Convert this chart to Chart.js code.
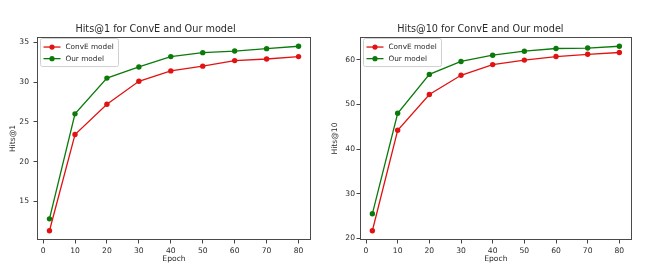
<!DOCTYPE html>
<html><head><meta charset="utf-8">
<script src="https://cdn.jsdelivr.net/npm/chart.js@4/dist/chart.umd.min.js"></script>
<style>
html,body{margin:0;padding:0;background:#fff;}
#wrap{position:relative;width:658px;height:279px;overflow:hidden;}
.c{position:absolute;top:0;width:329px;height:279px;}
</style></head><body>
<div id="wrap">
<div class="c" style="left:0"><canvas id="c1" width="329" height="279"></canvas></div>
<div class="c" style="left:329px"><canvas id="c2" width="329" height="279"></canvas></div>
</div>
<script>
const epochs = [2, 10, 20, 30, 40, 50, 60, 70, 80];
const convE_hits1 = [11.3, 23.4, 27.2, 30.1, 31.4, 32.0, 32.7, 32.9, 33.2];
const our_hits1   = [12.8, 26.0, 30.5, 31.9, 33.2, 33.7, 33.9, 34.2, 34.5];
const convE_hits10 = [21.7, 44.2, 52.2, 56.5, 58.9, 59.9, 60.7, 61.2, 61.6];
const our_hits10   = [25.5, 48.0, 56.7, 59.6, 61.0, 61.9, 62.5, 62.6, 63.0];
const xTicks = [0, 10, 20, 30, 40, 50, 60, 70, 80];
const yTicks1 = [15, 20, 25, 30, 35];
const yTicks10 = [20, 30, 40, 50, 60];
const seriesNames = ['ConvE model', 'Our model'];
const titles = ['Hits@1 for ConvE and Our model', 'Hits@10 for ConvE and Our model'];
const yTitles = ['Hits@1', 'Hits@10'];
const xTitle = 'Epoch';

const RED = 'rgb(226,18,18)';
const GREEN = 'rgb(10,122,10)';
const FONT = 'DejaVu Sans';
const TXT = '#2a2a2a';

function pad(vals, frac) {
  const mn = Math.min(...vals), mx = Math.max(...vals);
  const r = mx - mn;
  return [mn - r * frac, mx + r * frac];
}

const framePlugin = {
  id: 'frame',
  afterDatasetsDraw(chart) {
    const {ctx, chartArea: a} = chart;
    ctx.save();
    ctx.strokeStyle = '#4a4a4a';
    ctx.lineWidth = 1;
    ctx.strokeRect(Math.round(a.left) + 0.5, Math.round(a.top) + 0.5,
                   Math.round(a.right - a.left) - 1, Math.round(a.bottom - a.top) - 1);
    ctx.restore();
  }
};

const legendPlugin = {
  id: 'mplLegend',
  afterDraw(chart) {
    const {ctx, chartArea: a} = chart;
    const x0 = a.left + 3.5, y0 = a.top + 1.5, w = 78, h = 28;
    ctx.save();
    ctx.fillStyle = 'rgba(255,255,255,0.9)';
    ctx.strokeStyle = '#d0d0d0';
    ctx.lineWidth = 1;
    ctx.beginPath();
    if (ctx.roundRect) ctx.roundRect(x0, y0, w, h, 2); else ctx.rect(x0, y0, w, h);
    ctx.fill(); ctx.stroke();
    chart.data.datasets.forEach((ds, i) => {
      const cy = y0 + 8.5 + i * 11.6;
      ctx.strokeStyle = ds.borderColor;
      ctx.lineWidth = 1.3;
      ctx.beginPath(); ctx.moveTo(x0 + 3, cy); ctx.lineTo(x0 + 20, cy); ctx.stroke();
      ctx.fillStyle = ds.borderColor;
      ctx.beginPath(); ctx.arc(x0 + 11.5, cy, 2.6, 0, Math.PI * 2); ctx.fill();
      ctx.fillStyle = TXT;
      ctx.font = '7.3px "' + FONT + '"';
      ctx.textBaseline = 'middle';
      ctx.textAlign = 'left';
      ctx.fillText(ds.label, x0 + 25, cy + 0.5);
    });
    ctx.restore();
  }
};

function makeChart(id, a, b, yTicks, idx, opts) {
  const [ymin, ymax] = pad(a.concat(b), 0.05);
  const [xmin, xmax] = pad(epochs, 0.05);
  const mk = (label, vals, col) => ({
    label, data: epochs.map((e, i) => ({x: e, y: vals[i]})),
    borderColor: col, backgroundColor: col, borderWidth: 1.3,
    pointRadius: 2.7, pointHoverRadius: 2.7, pointBorderWidth: 0, tension: 0
  });
  return new Chart(document.getElementById(id), {
    type: 'line',
    data: { datasets: [mk(seriesNames[0], a, RED), mk(seriesNames[1], b, GREEN)] },
    plugins: [framePlugin, legendPlugin],
    options: {
      responsive: false, animation: false, events: [],
      layout: { padding: { left: 0, right: opts.right, top: 0, bottom: 0 } },
      plugins: {
        legend: { display: false }, tooltip: { enabled: false },
        title: { display: true, text: titles[idx], color: TXT,
                 font: { family: FONT, size: 9.7, weight: 'normal' },
                 padding: { top: 23.5, bottom: 1.9 } }
      },
      scales: {
        x: {
          type: 'linear', min: xmin, max: xmax,
          afterBuildTicks: s => { s.ticks = xTicks.map(v => ({value: v})); },
          afterFit: s => { s.height = 39; },
          grid: { drawOnChartArea: false, drawTicks: true, tickLength: 3.5, tickColor: '#444' },
          border: { display: false },
          ticks: { color: TXT, font: { family: FONT, size: 7.6 }, padding: 2.5, maxRotation: 0, autoSkip: false },
          title: { display: true, text: xTitle, color: TXT, font: { family: FONT, size: 7.6 }, padding: { top: 0, bottom: 15.5 } }
        },
        y: {
          type: 'linear', min: ymin, max: ymax,
          afterBuildTicks: s => { s.ticks = yTicks.map(v => ({value: v})); },
          afterFit: s => { s.width = opts.yw; },
          grid: { drawOnChartArea: false, drawTicks: true, tickLength: 3.5, tickColor: '#444' },
          border: { display: false },
          ticks: { color: TXT, font: { family: FONT, size: 7.6 }, padding: opts.ypad, autoSkip: false },
          title: { display: true, text: yTitles[idx], color: TXT, font: { family: FONT, size: 7.6 }, padding: { top: opts.ytp, bottom: 0 } }
        }
      }
    }
  });
}

makeChart('c1', convE_hits1, our_hits1, yTicks1, 0, { right: 18, yw: 37, ypad: 4.5, ytp: 8.5 });
makeChart('c2', convE_hits10, our_hits10, yTicks10, 1, { right: 26.3, yw: 31, ypad: 1.5, ytp: 1.2 });
</script>
</body></html>
